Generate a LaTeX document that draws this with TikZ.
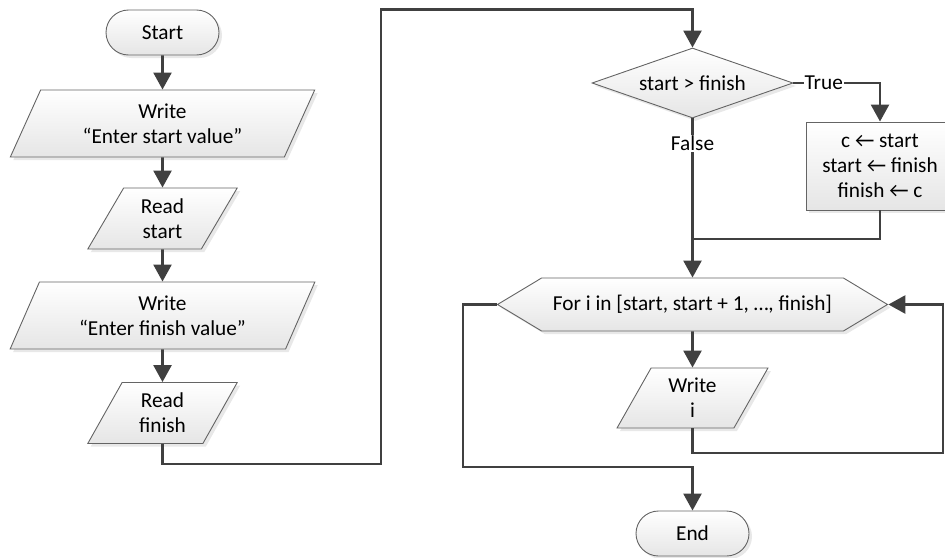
\documentclass[tikz,border=0pt]{standalone}
\usepackage{fontspec}
\setmainfont{Carlito}
\usepackage{xcolor}
\definecolor{Line}{RGB}{64,64,64}
\definecolor{Border}{RGB}{100,100,100}
\usepackage{tikz}
\usetikzlibrary{shapes.geometric}
\usetikzlibrary{shapes.misc}
\usetikzlibrary{shapes.symbols}
\usetikzlibrary{arrows.meta}
\usetikzlibrary{shadows}
\tikzstyle{Shape}=[draw=Border,line width=0.9pt,top color=white,
bottom color=black!10,align=center,inner sep=0pt,
drop shadow={opacity=0.18,shadow xshift=3pt,shadow yshift=-3pt},
font=\fontsize{21.3}{25}\selectfont]
\tikzstyle{Term}=[Shape,rounded rectangle,minimum width=113pt,
minimum height=45pt]
\tikzstyle{IO}=[Shape,trapezium,trapezium left angle=63.5,
trapezium right angle=116.5,trapezium stretches=true,
minimum height=61pt]
\tikzstyle{Decision}=[Shape,diamond,aspect=2.87,minimum width=201pt,
minimum height=70pt]
\tikzstyle{Process}=[Shape,rectangle,minimum width=148pt,
minimum height=88pt]
\tikzstyle{Loop}=[Shape,signal,signal to=west and east,
signal pointer angle=62,minimum width=390pt,minimum height=53pt]
\tikzstyle{Edge}=[draw=Line,line width=2.6pt]
\tikzstyle{Arrow}=[Edge,-{Triangle[length=17pt,width=18pt]}]
\tikzstyle{Lbl}=[fill=white,inner sep=1pt,
font=\fontsize{21.3}{25}\selectfont]

\begin{document}
\begin{tikzpicture}[x=1pt,y=-1pt]
        \useasboundingbox (0,0) rectangle (945,557);
        \node[Term](start)at(162.5,32.5){Start};
        \node[IO,minimum width=305pt,minimum height=67pt](w1)
            at(162.5,123.5){Write\\“Enter start value”};
        \node[IO,minimum width=150pt](r1)at(162.5,218.5){Read\\start};
        \node[IO,minimum width=305pt,minimum height=67pt](w2)
            at(162.5,315.5){Write\\“Enter finish value”};
        \node[IO,minimum width=150pt](r2)at(162.5,413){Read\\finish};
        \node[Decision](cmp)at(692.5,83){start > finish};
        \node[Process](swap)at(880,166)
            {c ← start\\start ← finish\\finish ← c};
        \node[Loop](for)at(692.5,304.5)
            {For i in [start, start + 1, …, finish]};
        \node[IO,minimum width=151pt,minimum height=60pt](wi)
            at(692.5,398){Write\\i};
        \node[Term](end)at(692.5,533.5){End};
        \coordinate(c1)at(381,464);
        \coordinate(c2)at(381,9.5);
        \coordinate(c3)at(692.5,239);
        \coordinate(c4)at(943,453);
        \coordinate(c5)at(463,467);
        \draw[Arrow](start)--(w1);
        \draw[Arrow](w1)--(r1);
        \draw[Arrow](r1)--(w2);
        \draw[Arrow](w2)--(r2);
        \draw[Arrow](r2.south)|-(c1)--(c2)-|(cmp.north);
        \draw[Arrow](cmp.east)-|node[Lbl,pos=0.175]{True}(swap.north);
        \draw[Edge](swap.south)|-(c3);
        \draw[Arrow](cmp.south)--node[Lbl,pos=0.156]{False}(for.north);
        \draw[Arrow](for.south)--(wi.north);
        \draw[Arrow](wi.south)|-(c4)|-(for.east);
        \draw[Arrow](for.west)-|(c5)-|(end.north);
    \end{tikzpicture}
\end{document}
